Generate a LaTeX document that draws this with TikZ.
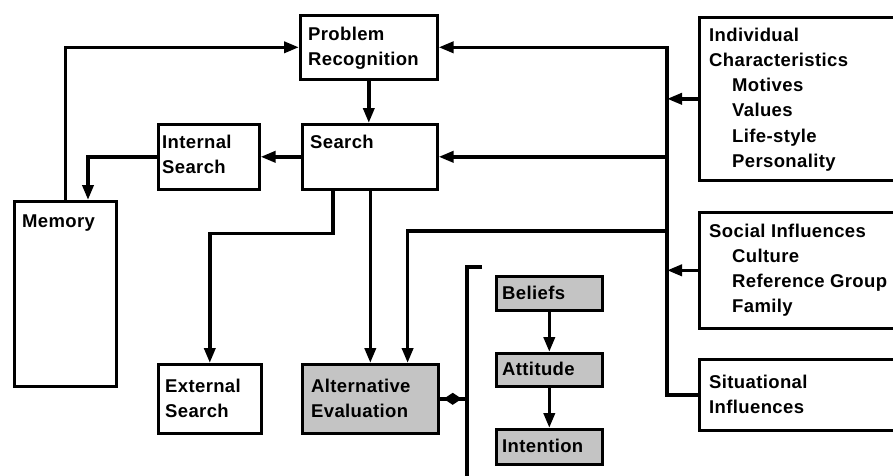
\documentclass[tikz,border=0pt]{standalone}
\usepackage{fontspec}
\setmainfont{Liberation Sans}[LetterSpace=2]
\usetikzlibrary{arrows.meta,decorations.markings,calc}
\begin{document}
\begin{tikzpicture}[x=1pt,y=-1pt,
  box/.style={draw, line width=2.6pt, inner sep=0pt, anchor=north west},
  shaded/.style={box, fill=black!23},
  txt/.style={anchor=base west, inner sep=0pt, font=\bfseries\fontsize{18.5}{25.3}\selectfont},
  conn/.style={line width=3.6pt},
  arr/.style={conn, -{Triangle[length=15pt,width=11pt]}},
  midtip/.style={conn, postaction={decorate}, decoration={markings,
      mark=at position 0.85 with {\arrow{Diamond[length=18pt,width=12pt]}}}},
]
\useasboundingbox (0,0) rectangle (893,475);
\clip (0,0) rectangle (893,475);

% process boxes
\node[box, minimum width=137pt, minimum height=64pt] (pr) at (299,14) {};
\node[box, minimum width=135pt, minimum height=65pt] (search) at (301,123) {};
\node[box, minimum width=101pt, minimum height=65pt] (int) at (157,123) {};
\node[box, minimum width=102pt, minimum height=185pt] (mem) at (13,200) {};
\node[box, minimum width=103pt, minimum height=69pt] (ext) at (157,363) {};
\node[shaded, minimum width=136pt, minimum height=69pt] (alt) at (301,363) {};
\node[shaded, minimum width=106pt, minimum height=34pt] (bel) at (495,275) {};
\node[shaded, minimum width=106pt, minimum height=33pt] (att) at (495,352) {};
\node[shaded, minimum width=106pt, minimum height=35pt] (inten) at (495,428) {};

% influence boxes (run off the right edge)
\node[box, minimum width=230pt, minimum height=163pt] (ind) at (698,16) {};
\node[box, minimum width=230pt, minimum height=116pt] (soc) at (698,211) {};
\node[box, minimum width=230pt, minimum height=71pt] (sit) at (698,358) {};

% labels
\node[txt] (pr-t) at (308,40) {\begin{tabular}[t]{@{}l@{}}Problem\\Recognition\end{tabular}};
\node[txt] (search-t) at (310,148) {Search};
\node[txt] (int-t) at (162,148) {\begin{tabular}[t]{@{}l@{}}Internal\\Search\end{tabular}};
\node[txt] (mem-t) at (22,227) {Memory};
\node[txt] (ext-t) at (165,392) {\begin{tabular}[t]{@{}l@{}}External\\Search\end{tabular}};
\node[txt] (alt-t) at (311,392) {\begin{tabular}[t]{@{}l@{}}Alternative\\Evaluation\end{tabular}};
\node[txt] (bel-t) at (502,299) {Beliefs};
\node[txt] (att-t) at (502,375) {Attitude};
\node[txt] (inten-t) at (502,452) {Intention};
\node[txt] (ind-t) at (709,41) {\begin{tabular}[t]{@{}l@{}}Individual\\Characteristics\\
  \hspace*{23pt}Motives\\\hspace*{23pt}Values\\\hspace*{23pt}Life-style\\\hspace*{23pt}Personality\end{tabular}};
\node[txt] (soc-t) at (709,237) {\begin{tabular}[t]{@{}l@{}}Social Influences\\
  \hspace*{23pt}Culture\\\hspace*{23pt}Reference Group\\\hspace*{23pt}Family\end{tabular}};
\node[txt] (sit-t) at (709,388) {\begin{tabular}[t]{@{}l@{}}Situational\\Influences\end{tabular}};

% bus and bracket positions
\coordinate (bus) at (667,0);
\coordinate (brk) at (467,0);

% memory feeds problem recognition
\draw[arr] (mem.north) |- (pr.west);
% problem recognition to search
\draw[arr] (pr.south) -- (pr.south |- search.north);
% search to internal search to memory
\draw[arr] (search.west) -- (int.east);
\draw[arr] (int.west) -| ($(mem.north west)+(75,0)$);
% search to external search
\draw[arr] ($(search.south west)+(32,0)$) -- ++(0,43) -| (ext.north);
% search to alternative evaluation
\draw[arr] (search.south -| alt.north) -- (alt.north);

% influence bus
\draw[arr] (sit.west) -- (sit.west -| bus) |- (pr.east);
\draw[arr] (search.east -| bus) -- (search.east);
\draw[arr] (ind.west) -- (ind.west -| bus);
\draw[arr] (soc.west) -- (soc.west -| bus);
\draw[arr] (bus |- 0,231) -- ($(alt.north east)+(-32,-132)$) -- ($(alt.north east)+(-32,0)$);

% belief-attitude-intention chain
\draw[arr] (bel.south) -- (att.north);
\draw[arr] (att.south) -- (inten.north);

% bracket round the chain
\draw[conn] (482,267) -- (brk |- 0,267) -- (brk |- 0,480);
\draw[midtip] (alt.east -| brk) -- (alt.east);
\end{tikzpicture}
\end{document}
